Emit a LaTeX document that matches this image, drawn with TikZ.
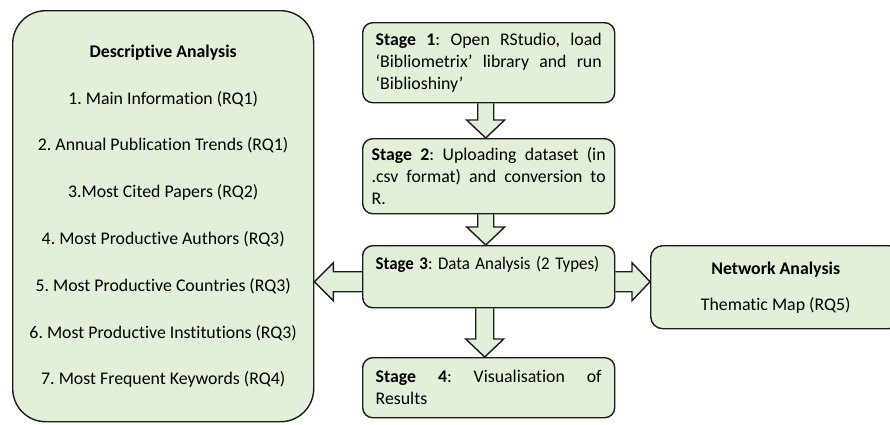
\documentclass[tikz,border=0pt]{standalone}
\usepackage{fontspec}
\setmainfont{Carlito}[Ligatures={TeX,NoCommon}]
\frenchspacing
\usetikzlibrary{calc,backgrounds}
\definecolor{boxgreen}{RGB}{226,239,217}
\definecolor{boxline}{RGB}{28,28,28}
\tikzset{
  greenbox/.style={draw=boxline, fill=boxgreen, line width=1.4pt, anchor=north west, text=black, font=\fontsize{17.8}{22}\selectfont},
  stagebox/.style={greenbox, rounded corners=10pt, minimum width=252pt, align=justify},
  fatarrow/.style={draw=boxline, fill=boxgreen, line width=1.4pt, line join=miter},
}
\begin{document}
\begin{tikzpicture}[x=1pt,y=-1pt]
\useasboundingbox (0,0) rectangle (890,424);
\clip (0,0) rectangle (890,424);
% Analysis boxes
\node[greenbox, rounded corners=33pt, minimum width=301pt, minimum height=411pt, align=center] (da) at (12,10) {\textbf{Descriptive Analysis}\\[24.8pt]
  1. Main Information (RQ1)\\[24.8pt]
  2. Annual Publication Trends (RQ1)\\[24.8pt]
  3.Most Cited Papers (RQ2)\\[24.8pt]
  4. Most Productive Authors (RQ3)\\[24.8pt]
  5. Most Productive Countries (RQ3)\\[24.8pt]
  6. Most Productive Institutions (RQ3)\\[24.8pt]
  7. Most Frequent Keywords (RQ4)};
\node[greenbox, rounded corners=12pt, minimum width=250pt, minimum height=83pt, align=center] (na) at (650,245) {\textbf{Network Analysis}\\[14pt] Thematic Map (RQ5)};
% Stages
\node[stagebox, text width=226pt, inner xsep=13pt, minimum height=80pt] (s1) at (362,22) {\textbf{Stage 1}: Open RStudio, load\linebreak `Bibliometrix' library and run\linebreak `Biblioshiny'};
\node[stagebox, text width=234pt, inner xsep=9pt, minimum height=75pt] (s2) at (362,138) {\textbf{Stage 2}: Uploading dataset (in\linebreak .csv format) and conversion to\linebreak R.};
\node[stagebox, text width=226pt, inner xsep=13pt, inner ysep=11pt, minimum height=60pt, align=left] (s3) at (362,245) {\scalebox{0.945}[1]{\textbf{Stage 3}: Data Analysis (2 Types)}\rule[-27pt]{0pt}{1pt}};
\node[stagebox, text width=226pt, inner xsep=13pt, minimum height=60pt] (s4) at (362,357) {\textbf{Stage 4}: Visualisation of\linebreak Results};
% Block arrows
\coordinate (a1s) at ($(s1.south)+(-3,0)$);
\coordinate (a1e) at (a1s |- s2.north);
\coordinate (a2s) at ($(s2.south)+(-3,0)$);
\coordinate (a2e) at (a2s |- s3.north);
\coordinate (a3s) at ($(s3.south)+(-4,0)$);
\coordinate (a3e) at (a3s |- s4.north);
\coordinate (l1) at ($(s3.west)+(0,5)$);
\coordinate (l2) at (l1 -| da.east);
\coordinate (r1) at ($(s3.east)+(0,5)$);
\coordinate (r2) at (r1 -| na.west);
\begin{pgfonlayer}{background}
\draw[fatarrow] ($(a1s)+(-8,0)$) -- ($(a1e)+(-8,-18)$) -- ($(a1e)+(-19,-18)$) -- (a1e) -- ($(a1e)+(19,-18)$) -- ($(a1e)+(8,-18)$) -- ($(a1s)+(8,0)$);
\draw[fatarrow] ($(a2s)+(-8,0)$) -- ($(a2e)+(-8,-18)$) -- ($(a2e)+(-19,-18)$) -- (a2e) -- ($(a2e)+(19,-18)$) -- ($(a2e)+(8,-18)$) -- ($(a2s)+(8,0)$);
\draw[fatarrow] ($(a3s)+(-9,0)$) -- ($(a3e)+(-9,-18)$) -- ($(a3e)+(-19,-18)$) -- (a3e) -- ($(a3e)+(19,-18)$) -- ($(a3e)+(9,-18)$) -- ($(a3s)+(9,0)$);
\draw[fatarrow] ($(l1)+(0,-10)$) -- ($(l2)+(19,-10)$) -- ($(l2)+(19,-19)$) -- (l2) -- ($(l2)+(19,19)$) -- ($(l2)+(19,10)$) -- ($(l1)+(0,10)$);
\draw[fatarrow] ($(r1)+(0,-10)$) -- ($(r2)+(-18,-10)$) -- ($(r2)+(-18,-19)$) -- (r2) -- ($(r2)+(-18,19)$) -- ($(r2)+(-18,10)$) -- ($(r1)+(0,10)$);
\end{pgfonlayer}
\end{tikzpicture}
\end{document}
